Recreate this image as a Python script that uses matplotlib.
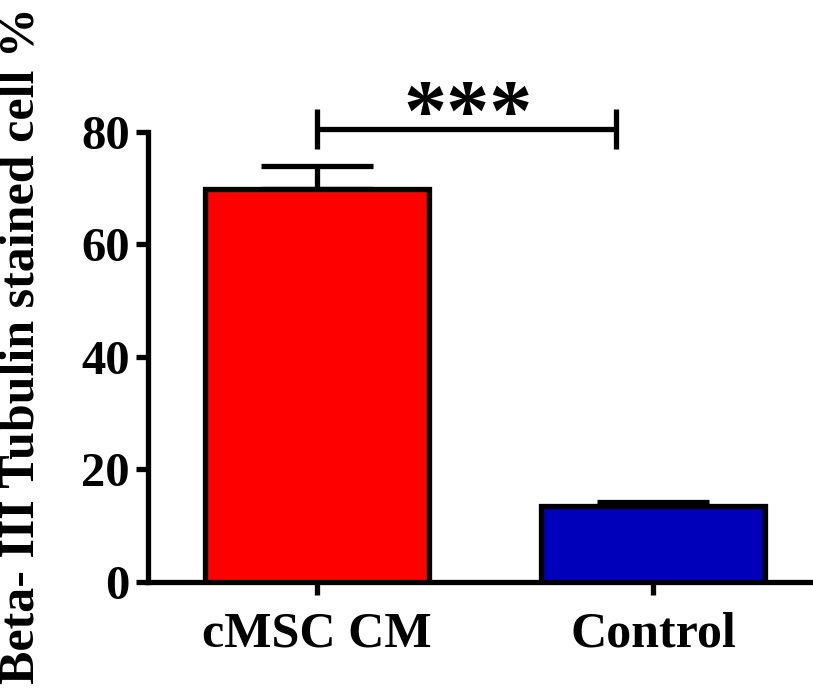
import matplotlib
matplotlib.use("Agg")
import matplotlib.pyplot as plt

categories = ["cMSC CM", "Control"]
values = [69.8, 13.5]
errors = [4.2, 0.8]
colors = ["#ff0000", "#0000bb"]
yticks = [0, 20, 40, 60, 80]
ylabel = "Beta- III Tubulin stained cell %"
sig_label = "***"
sig_y = 80.5

plt.rcParams['font.family'] = ['Liberation Serif', 'DejaVu Serif']
plt.rcParams['font.weight'] = 'bold'

W, H = 813, 688
fig = plt.figure(figsize=(W/100, H/100), dpi=100)
left_px, right_px, bottom_px, top_px = 148, 813, 582, 47.6
ax = fig.add_axes([left_px/W, 1-bottom_px/H, (right_px-left_px)/W, (bottom_px-top_px)/H])

lw = 3.8
x = list(range(len(categories)))
ax.bar(x, values, width=0.665, color=colors, edgecolor='black', linewidth=lw, zorder=3)
ax.errorbar(x, values, yerr=[[0]*len(errors), errors], fmt='none', ecolor='black',
            elinewidth=lw, capsize=40, capthick=lw, zorder=2)

ax.set_xlim(-0.503, 1.476)
ax.set_ylim(0, 95)
ax.spines['top'].set_visible(False)
ax.spines['right'].set_visible(False)
ax.spines['left'].set_bounds(0, 80)
ax.spines['left'].set_linewidth(lw)
ax.spines['bottom'].set_linewidth(lw)
ax.spines['left'].set_capstyle('projecting')
ax.set_yticks(yticks)
ax.set_xticks(x)
ax.set_xticklabels(categories)
ax.tick_params(axis='y', length=9, width=lw, labelsize=35, pad=4)
ax.tick_params(axis='x', length=9, width=lw, labelsize=36, pad=12)
for lab in ax.get_xticklabels() + ax.get_yticklabels():
    lab.set_fontweight('bold')
ax.set_ylabel(ylabel, fontsize=36, fontweight='bold')
ax.yaxis.set_label_coords(-0.155, 0.442, transform=ax.transAxes)

# significance bracket
xr = x[1] - 0.11
ax.plot([x[0], xr], [sig_y, sig_y], color='black', lw=lw, clip_on=False, solid_capstyle='butt')
ax.plot([x[0], x[0]], [sig_y-3.5, sig_y+3.5], color='black', lw=lw, clip_on=False, solid_capstyle='butt')
ax.plot([xr, xr], [sig_y-3.5, sig_y+3.5], color='black', lw=lw, clip_on=False, solid_capstyle='butt')
ax.text((x[0] + xr)/2 + 0.005, sig_y - 1.8, sig_label, ha='center', va='baseline',
        fontsize=62, fontweight='bold', clip_on=False)

fig.savefig("out.png", dpi=100)
